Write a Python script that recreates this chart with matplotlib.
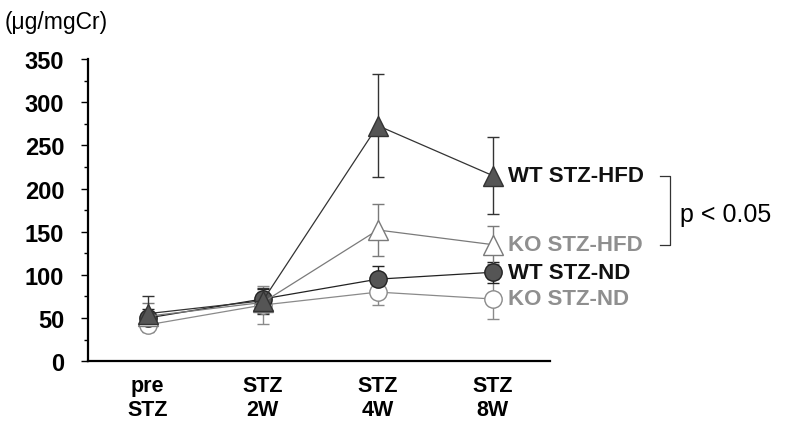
import numpy as np
import matplotlib.pyplot as plt
from matplotlib.ticker import MultipleLocator
import matplotlib.transforms as mtransforms

plt.rcParams['font.family'] = ['Liberation Sans', 'DejaVu Sans']

# Data
timepoints = ['pre\nSTZ', 'STZ\n2W', 'STZ\n4W', 'STZ\n8W']
wt_hfd = [55, 70, 273, 215]
wt_hfd_err = [20, 15, 60, 45]
ko_hfd = [52, 68, 152, 135]
ko_hfd_err = [15, 12, 30, 22]
wt_nd = [50, 72, 95, 103]
wt_nd_err = [10, 12, 15, 12]
ko_nd = [42, 65, 80, 72]
ko_nd_err = [8, 22, 15, 23]

x = np.arange(len(timepoints))

fig = plt.figure(figsize=(7.89, 4.27), dpi=100)
ax = fig.add_axes([0.1115, 0.152, 0.586, 0.707])

# series: values, errors, marker, face, edge/line colour, label, text colour
series = [
    (ko_nd, ko_nd_err, 'o', 'white', '#8a8a8a', 'KO STZ-ND', '#8f8f8f'),
    (wt_nd, wt_nd_err, 'o', '#555555', '#222222', 'WT STZ-ND', '#111111'),
    (ko_hfd, ko_hfd_err, '^', 'white', '#7a7a7a', 'KO STZ-HFD', '#8f8f8f'),
    (wt_hfd, wt_hfd_err, '^', '#555555', '#333333', 'WT STZ-HFD', '#111111'),
]

for vals, errs, mk, face, edge, label, tcol in series:
    ms = 14 if mk == '^' else 12.5
    ax.errorbar(x, vals, yerr=errs, fmt='none', ecolor=edge, elinewidth=1,
                capsize=4, capthick=1, zorder=2)
    ax.plot(x, vals, color=edge, lw=0.9, marker=mk, markersize=ms,
            markerfacecolor=face, markeredgecolor=edge, markeredgewidth=1,
            zorder=3)
    ax.annotate(label, (x[-1], vals[-1]), xytext=(11, 0),
                textcoords='offset points', va='center', ha='left',
                fontsize=16, fontweight='bold', color=tcol,
                annotation_clip=False)

ax.set_xlim(-0.52, 3.5)
ax.set_ylim(0, 350)
ax.yaxis.set_major_locator(MultipleLocator(50))
ax.yaxis.set_minor_locator(MultipleLocator(25))
ax.set_xticks(x)
ax.set_xticklabels(timepoints, fontsize=15.5, fontweight='bold', linespacing=1.2)
ax.tick_params(axis='x', length=0, pad=10)
ax.tick_params(axis='y', which='major', length=5, width=1, pad=12)
ax.tick_params(axis='y', which='minor', length=3, width=1)
for lab in ax.get_yticklabels():
    lab.set_fontsize(17)
    lab.set_fontweight('bold')

for s in ['top', 'right']:
    ax.spines[s].set_visible(False)
for s in ['left', 'bottom']:
    ax.spines[s].set_linewidth(1.6)

# significance bracket
trans = mtransforms.blended_transform_factory(ax.transAxes, ax.transData)
ax.plot([1.238, 1.258, 1.258, 1.238], [wt_hfd[-1], wt_hfd[-1], ko_hfd[-1], ko_hfd[-1]],
        color='#333333', lw=0.9, transform=trans, clip_on=False)
ax.text(1.28, (wt_hfd[-1] + ko_hfd[-1]) / 2 - 4, 'p < 0.05', transform=trans,
        fontsize=18, va='center', ha='left')

fig.text(0.006, 0.948, '(\u03bcg/mgCr)', fontsize=16.5, va='center', ha='left')

fig.savefig('out.png', dpi=100)
